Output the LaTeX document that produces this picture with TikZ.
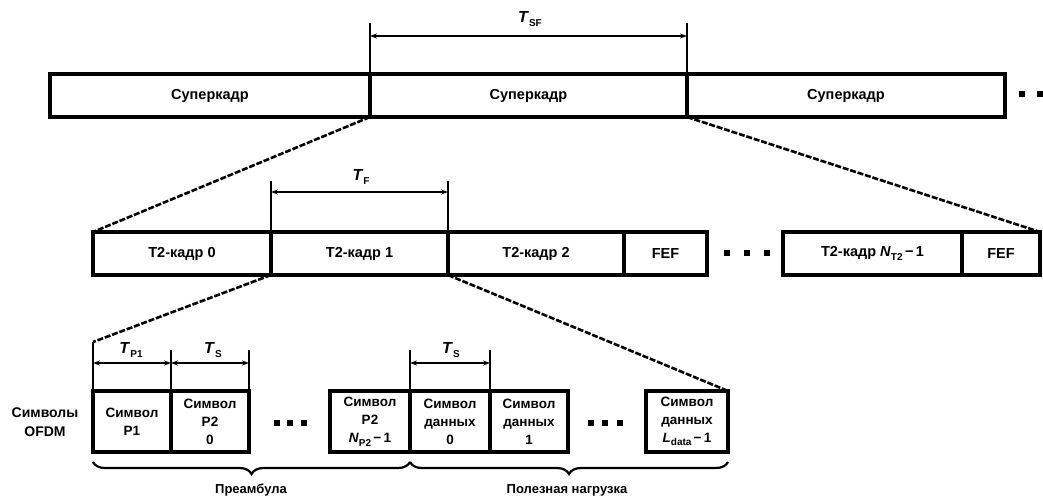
\documentclass[tikz,border=0pt]{standalone}
\usepackage{fontspec}
\setmainfont{Liberation Sans}
\usetikzlibrary{arrows.meta,decorations.pathreplacing}
\newcommand\Tsub[2]{\textit{#1}\raisebox{-0.5ex}{\fontsize{10}{10}\selectfont #2}}
\begin{document}
\begin{tikzpicture}[x=1pt,y=-1pt,
  font=\bfseries\fontsize{14.5}{16}\selectfont,
  box/.style={draw, line width=3.2pt, inner sep=0pt, outer sep=0pt, align=center},
  symbox/.style={box, minimum height=61pt, font=\bfseries\fontsize{13.5}{18}\selectfont},
  zoomline/.style={line width=2.6pt, dash pattern=on 6pt off 1.8pt},
  dimline/.style={line width=1.8pt, {Stealth[length=7pt,width=5pt]}-{Stealth[length=7pt,width=5pt]}},
  tickline/.style={line width=2.6pt},
  dotmark/.style={fill, rectangle, minimum size=5.5pt, inner sep=0pt},
  bracebar/.style={line width=2.2pt, decorate, decoration={brace, mirror, amplitude=12pt}},
  lbl/.style={inner sep=0pt, align=center},
  dimlbl/.style={lbl, font=\bfseries\fontsize{16}{16}\selectfont}]
\useasboundingbox (0,0) rectangle (1043,498);

% ---- superframes
\node[box, minimum width=320pt, minimum height=43pt] (sf0) at (210,95.5) {Суперкадр};
\node[box, minimum width=317pt, minimum height=43pt] (sf1) at (528.5,95.5) {Суперкадр};
\node[box, minimum width=318pt, minimum height=43pt] (sf2) at (846,95.5) {Суперкадр};
\node[dotmark] (sd1) at (1022,94) {};
\node[dotmark] (sd2) at (1040,94) {};

% T_SF
\coordinate (tsfa) at (370,23);
\coordinate (tsfb) at (687,23);
\coordinate (tsfl) at (370,36);
\coordinate (tsfr) at (687,36);
\draw[tickline] (sf1.north west) -- (tsfa);
\draw[tickline] (sf1.north east) -- (tsfb);
\draw[dimline] (tsfl) -- (tsfr);
\node[dimlbl] (tsf) at (530,19) {\Tsub{T}{SF}};

% ---- T2 frames
\node[box, minimum width=178pt, minimum height=43pt] (f0) at (182,253.5) {T2-кадр 0};
\node[box, minimum width=177pt, minimum height=43pt] (f1) at (359.5,253.5) {T2-кадр 1};
\node[box, minimum width=176pt, minimum height=43pt] (f2) at (536,253.5) {T2-кадр 2};
\node[box, minimum width=83pt, minimum height=43pt] (fef1) at (665.5,253.5) {FEF};
\node[dotmark] (md1) at (727,253) {};
\node[dotmark] (md2) at (747,253) {};
\node[dotmark] (md3) at (767,253) {};
\node[box, minimum width=179pt, minimum height=43pt] (fN) at (872.5,253.5) {T2-кадр \Tsub{N}{T2}\,−\,1};
\node[box, minimum width=78pt, minimum height=43pt] (fef2) at (1001,253.5) {FEF};

\draw[zoomline] (sf1.south west) -- (f0.north west);
\draw[zoomline] (sf1.south east) -- (fef2.north east);

% T_F
\coordinate (tfa) at (271,181);
\coordinate (tfb) at (448,181);
\coordinate (tfl) at (271,192);
\coordinate (tfr) at (448,192);
\draw[tickline] (f1.north west) -- (tfa);
\draw[tickline] (f1.north east) -- (tfb);
\draw[dimline] (tfl) -- (tfr);
\node[dimlbl] (tf) at (361,177) {\Tsub{T}{F}};

% ---- OFDM symbols
\node[symbox, minimum width=78pt] (p1) at (132,421.5) {Символ\\P1};
\node[symbox, minimum width=78pt] (p2a) at (210,421.5) {Символ\\P2\\0};
\node[dotmark] (bd1) at (277,423) {};
\node[dotmark] (bd2) at (290,423) {};
\node[dotmark] (bd3) at (304,423) {};
\node[symbox, minimum width=80pt] (p2n) at (370,421.5) {Символ\\P2\\\Tsub{N}{P2}\,−\,1};
\node[symbox, minimum width=80pt] (d0) at (450,421.5) {Символ\\данных\\0};
\node[symbox, minimum width=78pt] (d1) at (529,421.5) {Символ\\данных\\1};
\node[dotmark] (bd4) at (591,423) {};
\node[dotmark] (bd5) at (605,423) {};
\node[dotmark] (bd6) at (620,423) {};
\node[symbox, minimum width=82pt] (dL) at (687,421.5) {Символ\\данных\\\Tsub{L}{data}\,−\,1};

\node[lbl, font=\bfseries\fontsize{14}{19}\selectfont] (ofdm) at (45,422) {Символы\\OFDM};

% ticks and dims
\coordinate (tp1a) at (93,342);
\coordinate (tp1b) at (171,350);
\coordinate (tp1c) at (249,350);
\coordinate (tsa) at (410,350);
\coordinate (tsb) at (490,350);
\draw[tickline] (p1.north west) -- (tp1a);
\draw[tickline] (p1.north east) -- (tp1b);
\draw[tickline] (p2a.north east) -- (tp1c);
\draw[tickline] (d0.north west) -- (tsa);
\draw[tickline] (d0.north east) -- (tsb);
\coordinate (dp1l) at (93,363);
\coordinate (dp1r) at (171,363);
\coordinate (dsl) at (171,363);
\coordinate (dsr) at (249,363);
\coordinate (ds2l) at (410,363);
\coordinate (ds2r) at (490,363);
\draw[dimline] (dp1l) -- (dp1r);
\draw[dimline] (dsl) -- (dsr);
\draw[dimline] (ds2l) -- (ds2r);
\node[dimlbl] (tp1) at (131,350) {\Tsub{T}{P1}};
\node[dimlbl] (ts1) at (213,350) {\Tsub{T}{S}};
\node[dimlbl] (ts2) at (451,350) {\Tsub{T}{S}};

\draw[zoomline] (f1.south west) -- (tp1a);
\draw[zoomline] (f1.south east) -- (dL.north east);

% braces
\coordinate (br0) at (93,462);
\coordinate (br1) at (410,462);
\coordinate (br2) at (728,462);
\draw[bracebar] (br0) -- (br1);
\draw[bracebar] (br1) -- (br2);
\node[lbl, font=\bfseries\fontsize{13}{15}\selectfont] (pre) at (251,490) {Преамбула};
\node[lbl, font=\bfseries\fontsize{13}{15}\selectfont] (pay) at (567,490) {Полезная нагрузка};
\end{tikzpicture}
\end{document}
